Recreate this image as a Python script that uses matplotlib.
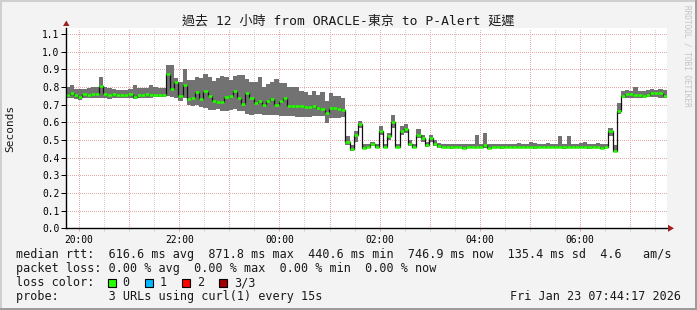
import numpy as np
import matplotlib
matplotlib.use("Agg")
import matplotlib.pyplot as plt
from matplotlib.patches import Rectangle, Polygon

plt.rcParams['font.family'] = ['DejaVu Sans Mono', 'Noto Sans CJK TC']

W, H = 697, 310  # output size in px (dpi 100)

# ---- data: smokeping rtt, 5 minute steps from 19:44 (hours since midnight Jan 22) ----
t_first = 19 + 44 / 60.0
step_h = 5 / 60.0

median_rtt = [
    0.753, 0.765, 0.752, 0.745, 0.76, 0.752, 0.76, 0.758, 0.805, 0.762, 0.752, 0.76,
    0.752, 0.752, 0.752, 0.762, 0.745, 0.755, 0.757, 0.762, 0.756, 0.757, 0.756, 0.756,
    0.874, 0.79, 0.83, 0.75, 0.81, 0.73, 0.735, 0.77, 0.73, 0.775,
    0.747, 0.722, 0.713, 0.713, 0.745, 0.747, 0.775, 0.74, 0.705, 0.766, 0.735, 0.71,
    0.72, 0.70, 0.72, 0.73, 0.70, 0.72, 0.738, 0.69, 0.695, 0.69, 0.69, 0.685,
    0.685, 0.69, 0.68, 0.675, 0.653, 0.68, 0.68, 0.675, 0.67,
    0.49, 0.45, 0.53, 0.59, 0.455, 0.46, 0.48, 0.46, 0.55, 0.46, 0.52, 0.60,
    0.46, 0.55, 0.56, 0.48, 0.46, 0.53, 0.51, 0.47, 0.51, 0.48, 0.465,
    0.46, 0.462, 0.458, 0.46, 0.46, 0.457, 0.46, 0.46, 0.462, 0.46,
    0.47, 0.455, 0.46, 0.46, 0.458, 0.46, 0.46, 0.46, 0.462, 0.46,
    0.46, 0.46, 0.458, 0.46, 0.46, 0.462, 0.46, 0.46, 0.46, 0.458,
    0.46, 0.46, 0.46, 0.462, 0.46, 0.458, 0.46, 0.46, 0.455, 0.46,
    0.55, 0.44, 0.665, 0.75, 0.76, 0.76, 0.755, 0.755, 0.75, 0.755, 0.765, 0.765, 0.765, 0.75,
]
smoke_hi = [
    0.80, 0.81, 0.79, 0.79, 0.79, 0.795, 0.80, 0.80, 0.855, 0.80, 0.795, 0.79,
    0.785, 0.785, 0.785, 0.79, 0.81, 0.795, 0.795, 0.795, 0.81, 0.80, 0.795, 0.795,
    0.925, 0.925, 0.85, 0.83, 0.90, 0.84, 0.84, 0.855, 0.85, 0.875,
    0.855, 0.836, 0.85, 0.86, 0.855, 0.84, 0.86, 0.87, 0.87, 0.845, 0.83, 0.83,
    0.855, 0.80, 0.815, 0.83, 0.847, 0.82, 0.82, 0.80, 0.80, 0.80, 0.775, 0.77,
    0.757, 0.775, 0.757, 0.77, 0.72, 0.766, 0.75, 0.75, 0.74,
    0.52, 0.47, 0.55, 0.61, 0.48, 0.48, 0.49, 0.48, 0.58, 0.475, 0.54, 0.64,
    0.48, 0.58, 0.59, 0.50, 0.475, 0.56, 0.53, 0.49, 0.53, 0.50, 0.485,
    0.478, 0.478, 0.475, 0.478, 0.478, 0.475, 0.478, 0.48, 0.53, 0.48,
    0.54, 0.478, 0.478, 0.48, 0.478, 0.478, 0.48, 0.478, 0.482, 0.478,
    0.478, 0.49, 0.485, 0.478, 0.48, 0.485, 0.478, 0.48, 0.52, 0.478,
    0.52, 0.478, 0.48, 0.485, 0.49, 0.478, 0.48, 0.485, 0.478, 0.48,
    0.57, 0.47, 0.71, 0.78, 0.785, 0.78, 0.80, 0.78, 0.78, 0.785, 0.79, 0.785, 0.79, 0.785,
]
smoke_lo = [
    0.735, 0.735, 0.73, 0.725, 0.735, 0.735, 0.735, 0.735, 0.74, 0.735, 0.73, 0.74,
    0.74, 0.74, 0.735, 0.735, 0.73, 0.735, 0.735, 0.74, 0.74, 0.745, 0.745, 0.745,
    0.75, 0.745, 0.74, 0.72, 0.74, 0.70, 0.695, 0.70, 0.685, 0.68,
    0.672, 0.672, 0.675, 0.665, 0.662, 0.67, 0.675, 0.662, 0.662, 0.65, 0.643, 0.65,
    0.65, 0.643, 0.64, 0.643, 0.64, 0.635, 0.635, 0.635, 0.635, 0.632, 0.632, 0.632,
    0.632, 0.636, 0.636, 0.635, 0.596, 0.625, 0.625, 0.625, 0.63,
    0.47, 0.44, 0.49, 0.57, 0.448, 0.452, 0.465, 0.452, 0.53, 0.452, 0.50, 0.57,
    0.452, 0.53, 0.54, 0.465, 0.452, 0.51, 0.49, 0.458, 0.49, 0.465, 0.455,
    0.452, 0.452, 0.45, 0.452, 0.452, 0.45, 0.452, 0.452, 0.452, 0.452,
    0.455, 0.448, 0.452, 0.452, 0.45, 0.452, 0.452, 0.452, 0.452, 0.452,
    0.452, 0.452, 0.45, 0.452, 0.452, 0.452, 0.452, 0.452, 0.452, 0.45,
    0.452, 0.452, 0.452, 0.452, 0.452, 0.45, 0.452, 0.452, 0.448, 0.452,
    0.52, 0.435, 0.65, 0.74, 0.735, 0.74, 0.735, 0.74, 0.74, 0.745, 0.745, 0.745, 0.74, 0.74,
]

tick_hours = [20, 22, 24, 26, 28, 30]
tick_labels = ['20:00', '22:00', '00:00', '02:00', '04:00', '06:00']
y_ticks = [0.0, 0.1, 0.2, 0.3, 0.4, 0.5, 0.6, 0.7, 0.8, 0.9, 1.0, 1.1]

title = '過去 12 小時 from ORACLE-東京 to P-Alert 延遲'
legend_rows = [
    'median rtt:  616.6 ms avg  871.8 ms max  440.6 ms min  746.9 ms now  135.4 ms sd  4.6   am/s',
    'packet loss: 0.00 % avg  0.00 % max  0.00 % min  0.00 % now',
    'loss color:',
    'probe:       3 URLs using curl(1) every 15s',
]
loss_labels = ['0', '1', '2', '3/3']
loss_colors = ['#26ff00', '#00b8ff', '#ff0000', '#a00000']
stamp = 'Fri Jan 23 07:44:17 2026'

BG = '#f3f3f3'
SMOKE = '#727272'
MGRID = '#e8abab'
GRID = '#d2d2d2'

t_start = 19 + 44 / 60.0 + 17 / 3600.0
t_end = t_start + 12


def fx(px):
    return px / W


def fy(py):
    return 1 - py / H


fig = plt.figure(figsize=(W / 100, H / 100), dpi=100)
fig.patch.set_facecolor(BG)

# plot canvas: x 66..667 px, y 27.5..228.3 px
ax = fig.add_axes([fx(66), fy(228.3), fx(667) - fx(66), fy(27.5) - fy(228.3)])
ax.set_facecolor('white')
ax.set_xlim(t_start, t_end)
ax.set_ylim(0, 1.137)

# grid, 1px on / 1px off
dot = dict(lw=0.72, ls=(0, (1, 1.6)), zorder=1, antialiased=False)
for h in np.arange(20.5, 32, 1.0):
    ax.axvline(h, color=GRID, **dot)
for h in range(20, 32):
    ax.axvline(h, color=MGRID, **dot)
for v in y_ticks[1:]:
    ax.axhline(v, color=MGRID, **dot)

# smoke + median
n = len(median_rtt)
edges = t_first + np.arange(n + 1) * step_h
med = np.array(median_rtt)
hi = np.array(smoke_hi)
lo = np.array(smoke_lo)
ax.fill_between(edges, np.append(lo, lo[-1]), np.append(hi, hi[-1]), step='post',
                color=SMOKE, lw=0, antialiased=False, zorder=2)
ax.step(edges, np.append(med, med[-1]), where='post', color='#111111', lw=0.9, zorder=3)
ax.hlines(med, edges[:-1], edges[1:], color=loss_colors[0], lw=1.8, zorder=4)

# axes
for s in ['top', 'right']:
    ax.spines[s].set_visible(False)
for s in ['left', 'bottom']:
    ax.spines[s].set_linewidth(1.0)
    ax.spines[s].set_color('black')
    ax.spines[s].set_zorder(5)

ax.set_yticks(y_ticks)
ax.set_yticklabels(['%.1f' % v for v in y_ticks])
ax.set_xticks(tick_hours)
ax.set_xticklabels(tick_labels)
ax.set_xticks(np.arange(20.5, 32, 0.5), minor=True)
ax.tick_params(axis='y', length=3.5, width=0.72, pad=1.2, labelsize=6.9, colors='black')
ax.tick_params(axis='x', which='major', length=2.2, width=0.72, pad=2.5, labelsize=6.9,
               color=MGRID)
ax.tick_params(axis='x', which='minor', length=2.2, width=0.72, color=GRID)

# axis arrows
fig.patches.append(Polygon([[fx(63), fy(26)], [fx(69.5), fy(26)], [fx(66.3), fy(20.5)]],
                           closed=True, transform=fig.transFigure, color='#a02020', lw=0))
fig.patches.append(Polygon([[fx(668), fy(224.8)], [fx(668), fy(231.8)], [fx(674), fy(228.3)]],
                           closed=True, transform=fig.transFigure, color='#a02020', lw=0))

# texts
fig.text(fx(348.5), fy(21), title, ha='center', va='center', fontsize=9.4, color='#1a1a1a')
fig.text(fx(10.5), fy(128), 'Seconds', rotation=90, ha='center', va='center', fontsize=8,
         color='#1a1a1a')
fig.text(fx(687), fy(5), 'RRDTOOL / TOBI OETIKER', rotation=270, ha='center', va='top',
         fontsize=5.6, color='#c4c4c4')

baselines = [258.3, 272.1, 286.0, 299.8]
for row, yb in zip(legend_rows, baselines):
    fig.text(fx(15.5), fy(yb), row, ha='left', va='baseline', fontsize=8.45, color='#1a1a1a')
for k, (lab, col) in enumerate(zip(loss_labels, loss_colors)):
    bx = 108 + k * 37.1
    fig.patches.append(Rectangle((fx(bx), fy(286.5)), fx(8), 8 / H, transform=fig.transFigure,
                                 facecolor=col, edgecolor='black', lw=0.8))
    fig.text(fx(bx + 14.5), fy(286.0), lab, ha='left', va='baseline', fontsize=8.45,
             color='#1a1a1a')
fig.text(fx(680.5), fy(299.8), stamp, ha='right', va='baseline', fontsize=8.45, color='#1a1a1a')

# frame
fig.patches.append(Rectangle((0, fy(2)), 1, 2 / H, transform=fig.transFigure, color='#cfcfcf', lw=0))
fig.patches.append(Rectangle((0, 0), fx(2), 1, transform=fig.transFigure, color='#cfcfcf', lw=0))
fig.patches.append(Rectangle((fx(695), 0), fx(2), 1, transform=fig.transFigure, color='#9c9c9c', lw=0))
fig.patches.append(Rectangle((0, 0), 1, 2 / H, transform=fig.transFigure, color='#9c9c9c', lw=0))

fig.savefig('out.png', dpi=100, facecolor=BG)
